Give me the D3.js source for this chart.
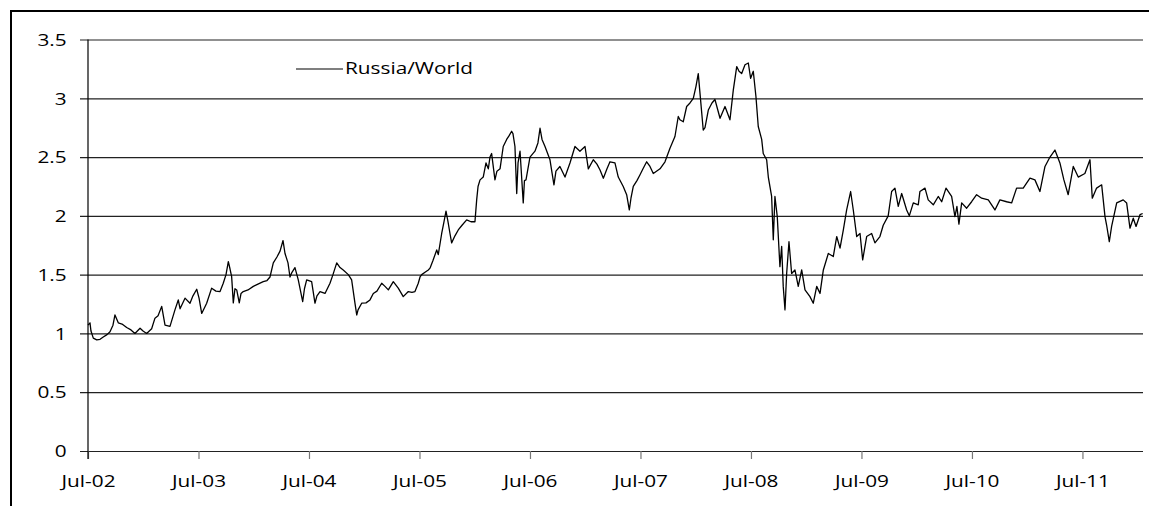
<!DOCTYPE html>
<html><head><meta charset="utf-8">
<script src="https://cdn.jsdelivr.net/npm/d3@7"></script>
<style>html,body{margin:0;padding:0;background:#fff;}svg{display:block;}</style>
</head><body>
<script>
// ---- data ----
const seriesName = "Russia/World";
// decimal-year dates
const dates = [2002.500,2002.518,2002.527,2002.548,2002.579,2002.609,2002.638,2002.672,2002.699,2002.726,2002.744,2002.774,2002.808,2002.850,2002.889,2002.925,2002.971,2002.998,
2003.031,2003.076,2003.106,2003.134,2003.167,2003.197,2003.242,2003.287,2003.317,2003.333,2003.378,2003.423,2003.450,2003.484,2003.505,2003.529,2003.574,2003.619,2003.658,2003.695,2003.724,2003.749,2003.770,2003.785,2003.800,2003.815,2003.830,2003.846,2003.869,2003.885,2003.905,2003.948,2003.996,
2004.038,2004.086,2004.120,2004.147,2004.177,2004.210,2004.238,2004.265,2004.283,2004.310,2004.328,2004.346,2004.373,2004.403,2004.443,2004.459,2004.479,2004.524,2004.554,2004.572,2004.600,2004.645,2004.690,2004.717,2004.751,2004.781,2004.810,2004.856,2004.886,2004.916,2004.932,2004.944,2004.977,
2005.016,2005.052,2005.082,2005.115,2005.158,2005.188,2005.218,2005.263,2005.308,2005.353,2005.399,2005.432,2005.459,2005.489,2005.505,2005.520,2005.550,2005.580,2005.595,2005.622,2005.656,2005.670,2005.701,2005.722,2005.740,2005.758,2005.776,2005.791,2005.821,2005.851,2005.885,2005.927,2005.966,
2006.002,2006.018,2006.030,2006.048,2006.077,2006.102,2006.123,2006.138,2006.153,2006.183,2006.201,2006.229,2006.258,2006.289,2006.310,2006.334,2006.346,2006.364,2006.380,2006.392,2006.410,2006.439,2006.450,2006.464,2006.500,2006.545,2006.572,2006.591,2006.609,2006.636,2006.681,2006.717,2006.735,2006.771,2006.817,2006.862,2006.907,2006.952,2006.998,
2007.028,2007.073,2007.106,2007.134,2007.164,2007.197,2007.224,2007.269,2007.299,2007.344,2007.375,2007.399,2007.414,2007.435,2007.468,2007.496,2007.523,2007.556,2007.586,2007.616,2007.677,2007.722,2007.767,2007.812,2007.842,2007.857,2007.887,2007.918,2007.948,2007.978,
2008.002,2008.023,2008.039,2008.068,2008.084,2008.114,2008.147,2008.174,2008.220,2008.265,2008.310,2008.340,2008.371,2008.392,2008.416,2008.446,2008.476,2008.497,2008.521,2008.545,2008.566,2008.597,2008.611,2008.642,2008.657,2008.687,2008.702,2008.717,2008.738,2008.762,2008.778,2008.792,2008.808,2008.823,2008.844,2008.868,2008.898,2008.928,2008.959,2008.989,
2009.034,2009.064,2009.095,2009.125,2009.155,2009.200,2009.245,2009.276,2009.306,2009.336,2009.366,2009.402,2009.426,2009.457,2009.487,2009.511,2009.547,2009.592,2009.622,2009.667,2009.697,2009.742,2009.773,2009.803,2009.833,2009.864,2009.909,2009.933,2009.969,
2010.014,2010.029,2010.075,2010.104,2010.150,2010.195,2010.226,2010.265,2010.316,2010.346,2010.364,2010.382,2010.407,2010.452,2010.497,2010.542,2010.588,2010.648,2010.708,2010.753,2010.814,2010.859,2010.904,2010.964,
2011.025,2011.070,2011.115,2011.161,2011.206,2011.251,2011.296,2011.332,2011.371,2011.417,2011.462,2011.522,2011.568,2011.589,2011.628,2011.674,2011.704,2011.719,2011.743,2011.764,2011.810,2011.869,2011.900,2011.930,2011.960,2011.985,2012.021,2012.045];
const values = [1.07,1.09,1.02,0.96,0.945,0.95,0.97,0.99,1.015,1.07,1.157,1.09,1.08,1.05,1.03,1.0,1.044,1.02,
1.0,1.04,1.13,1.15,1.23,1.07,1.06,1.2,1.285,1.21,1.3,1.257,1.32,1.376,1.3,1.17,1.257,1.385,1.36,1.356,1.427,1.5,1.61,1.55,1.483,1.26,1.38,1.37,1.26,1.34,1.356,1.37,1.4,
1.42,1.44,1.45,1.48,1.6,1.65,1.7,1.79,1.68,1.6,1.48,1.52,1.56,1.455,1.27,1.38,1.455,1.44,1.257,1.32,1.356,1.34,1.427,1.5,1.6,1.56,1.54,1.5,1.455,1.257,1.157,1.2,1.257,
1.26,1.285,1.34,1.36,1.427,1.4,1.37,1.44,1.385,1.313,1.356,1.35,1.356,1.427,1.48,1.5,1.52,1.54,1.555,1.62,1.71,1.67,1.85,1.95,2.04,1.95,1.85,1.77,1.83,1.88,1.92,1.966,1.95,
1.95,2.14,2.25,2.306,2.33,2.45,2.4,2.5,2.53,2.306,2.38,2.4,2.59,2.65,2.68,2.72,2.7,2.59,2.19,2.45,2.55,2.11,2.3,2.306,2.5,2.55,2.62,2.745,2.65,2.59,2.477,2.264,2.38,2.42,2.33,2.45,2.59,2.55,2.59,
2.4,2.477,2.44,2.39,2.32,2.4,2.46,2.45,2.33,2.25,2.18,2.05,2.15,2.25,2.3,2.35,2.4,2.46,2.42,2.36,2.4,2.46,2.575,2.675,2.845,2.817,2.8,2.93,2.96,3.0,
3.1,3.21,3.04,2.73,2.75,2.9,2.96,2.99,2.83,2.93,2.817,3.07,3.27,3.23,3.21,3.285,3.30,3.17,3.23,3.015,2.76,2.65,2.53,2.477,2.33,2.165,1.796,2.165,1.994,1.568,1.74,1.4,1.2,1.51,1.78,1.51,1.54,1.4,1.54,1.37,
1.313,1.257,1.4,1.34,1.54,1.68,1.654,1.824,1.725,1.88,2.05,2.207,2.05,1.824,1.85,1.625,1.824,1.85,1.77,1.824,1.92,2.0,2.207,2.236,2.08,2.19,2.05,2.0,2.11,
2.094,2.207,2.236,2.136,2.094,2.165,2.12,2.236,2.165,1.994,2.08,1.93,2.11,2.065,2.12,2.18,2.15,2.136,2.05,2.136,2.12,2.11,2.236,2.236,
2.32,2.306,2.207,2.42,2.5,2.56,2.45,2.306,2.18,2.42,2.33,2.36,2.477,2.15,2.236,2.264,1.994,1.92,1.78,1.91,2.11,2.136,2.11,1.895,1.98,1.91,2.01,2.02];
const yTicks = [0,0.5,1,1.5,2,2.5,3,3.5];
const yTickLabels = ["0","0.5","1","1.5","2","2.5","3","3.5"];
const xTicks = [2002.5,2003.5,2004.5,2005.5,2006.5,2007.5,2008.5,2009.5,2010.5,2011.5];
const xTickLabels = ["Jul-02","Jul-03","Jul-04","Jul-05","Jul-06","Jul-07","Jul-08","Jul-09","Jul-10","Jul-11"];

// ---- drawing ----
const W = 1149, H = 506;
const FONT = "'Open Sans', 'Noto Sans', sans-serif";
const FS = 16;
const SX = 1.3;
const svg = d3.select("body").append("svg").attr("width", W).attr("height", H);
svg.append("rect").attr("width", W).attr("height", H).attr("fill", "#fff");
svg.append("rect").attr("x", 11).attr("y", 11).attr("width", 1160).attr("height", 520)
  .attr("fill", "none").attr("stroke", "#000").attr("stroke-width", 2);

const x = d3.scaleLinear().domain([2002.5, 2012.048]).range([88, 1143]);
const y = d3.scaleLinear().domain([0, 3.5]).range([451, 39.5]);

// y axis with gridlines
const gy = svg.append("g").attr("transform", "translate(80,0)")
  .call(d3.axisLeft(y).tickValues(yTicks).tickFormat((d, i) => yTickLabels[i]).tickSize(-(1143 - 80)));
gy.select(".domain").remove();
gy.selectAll(".tick line").attr("stroke", "#222").attr("stroke-width", 1.2);
gy.selectAll(".tick text").attr("x", null).attr("dy", null)
  .attr("transform", `translate(-13.3,0) scale(${SX},1)`).attr("dy", "0.36em")
  .attr("text-anchor", "end").attr("font-family", FONT).attr("font-size", FS).attr("fill", "#000");

// x axis
const gx = svg.append("g").attr("transform", "translate(0,451)")
  .call(d3.axisBottom(x).tickValues(xTicks).tickFormat((d, i) => xTickLabels[i]).tickSize(8));
gx.select(".domain").remove();
gx.selectAll(".tick line").attr("stroke", "#777").attr("stroke-width", 1.2);
gx.selectAll(".tick text").attr("y", null).attr("dy", null)
  .attr("transform", `translate(0,36) scale(${SX},1)`)
  .attr("text-anchor", "middle").attr("font-family", FONT).attr("font-size", FS).attr("fill", "#000");

// vertical axis line
svg.append("line").attr("x1", 88).attr("x2", 88).attr("y1", y(3.5)).attr("y2", 459)
  .attr("stroke", "#000").attr("stroke-width", 1.2);

// series
const data = dates.map((t, i) => ({t, v: values[i]}));
svg.append("path").datum(data)
  .attr("fill", "none").attr("stroke", "#000").attr("stroke-width", 1.3).attr("stroke-linejoin", "round")
  .attr("d", d3.line().x(d => x(d.t)).y(d => y(d.v)));

// legend
svg.append("line").attr("x1", 296).attr("x2", 343).attr("y1", 69).attr("y2", 69)
  .attr("stroke", "#000").attr("stroke-width", 1.2);
svg.append("text").attr("transform", `translate(345,74) scale(${SX},1)`)
  .attr("font-family", FONT).attr("font-size", FS).attr("fill", "#000").text(seriesName);
</script>
</body></html>
